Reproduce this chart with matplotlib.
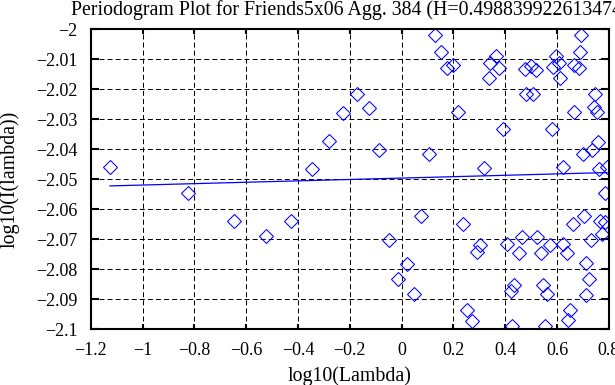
import matplotlib
matplotlib.use("Agg")
import matplotlib.pyplot as plt
from matplotlib.ticker import FuncFormatter

# periodogram points (log10 of frequency, log10 of intensity)
log_lambda = [
    -1.125, -0.824, -0.648, -0.523, -0.426, -0.347, -0.280, -0.225, -0.171, -0.125,
    -0.086, -0.047, -0.012, 0.020, 0.049, 0.075, 0.107, 0.129, 0.153, 0.175,
    0.198, 0.216, 0.236, 0.252, 0.270, 0.290, 0.303, 0.320, 0.338, 0.343,
    0.364, 0.376, 0.391, 0.405, 0.421, 0.428, 0.432, 0.452, 0.464, 0.475,
    0.482, 0.498, 0.507, 0.518, 0.523, 0.537, 0.546, 0.554, 0.562, 0.571,
    0.581, 0.584, 0.595, 0.607, 0.613, 0.622, 0.622, 0.638, 0.644, 0.651,
    0.661, 0.665, 0.667, 0.683, 0.687, 0.692, 0.701, 0.705, 0.712, 0.713,
    0.723, 0.731, 0.736, 0.742, 0.747, 0.755, 0.760, 0.763, 0.766, 0.773,
    0.786, 0.786, 0.793,
]
log_I = [
    -2.0460, -2.0547, -2.0639, -2.0688, -2.0639, -2.0467, -2.0373, -2.0280, -2.0216, -2.0261,
    -2.0402, -2.0704, -2.0831, -2.0781, -2.0884, -2.0622, -2.0415, -2.0019, -2.0077, -2.0129,
    -2.0120, -2.0277, -2.0649, -2.0937, -2.0971, -2.0742, -2.0719, -2.0461, -2.0162, -2.0111,
    -2.0088, -2.0129, -2.0331, -2.0717, -2.0874, -2.0988, -2.0851, -2.0747, -2.0691, -2.0132,
    -2.0215, -2.0122, -2.0215, -2.0137, -2.0692, -2.0747, -2.0854, -2.0988, -2.0881, -2.0719,
    -2.0331, -2.0127, -2.0088, -2.0111, -2.0162, -2.0460, -2.0716, -2.0747, -2.0969, -2.0936,
    -2.0649, -2.0118, -2.0276, -2.0129, -2.0075, -2.0018, -2.0415, -2.0622, -2.0886, -2.0780,
    -2.0832, -2.0704, -2.0403, -2.0258, -2.0217, -2.0276, -2.0375, -2.0465, -2.0638, -2.0682,
    -2.0641, -2.0547, -2.0459,
]

# least squares fit: slope = 1 - 2H
H = 0.498839922613474
intercept = -2.0496

x_ticks = [-1.2, -1, -0.8, -0.6, -0.4, -0.2, 0, 0.2, 0.4, 0.6, 0.8]
y_ticks = [-2.1, -2.09, -2.08, -2.07, -2.06, -2.05, -2.04, -2.03, -2.02, -2.01, -2.0]

plt.rcParams["font.family"] = ["Liberation Serif", "DejaVu Serif"]
plt.rcParams["font.size"] = 13
plt.rcParams["lines.scale_dashes"] = False

fig = plt.figure(figsize=(6.15, 3.85), dpi=100)
ax = fig.add_axes([0.1475, 0.1447, 0.8425, 0.7793])

ax.plot(log_lambda, log_I, linestyle="none", marker="D", markersize=6.8,
        markerfacecolor="none", markeredgecolor="blue", markeredgewidth=0.75)

slope = 1 - 2 * H
x_fit = [min(log_lambda), max(log_lambda)]
y_fit = [slope * v + intercept for v in x_fit]
ax.plot(x_fit, y_fit, color="blue", linewidth=0.9)

ax.set_xlim(-1.2, 0.8)
ax.set_ylim(-2.1, -2.0)
ax.set_xticks(x_ticks)
ax.set_yticks(y_ticks)
fmt = FuncFormatter(lambda v, p: ("%g" % round(v, 4)).replace("-", "\u2212"))
ax.xaxis.set_major_formatter(fmt)
ax.yaxis.set_major_formatter(fmt)

ax.grid(True, color="black", linestyle=(0, (3.6, 2.2)), linewidth=0.72)
ax.tick_params(axis="both", direction="in", top=True, right=True, width=1.5)
ax.tick_params(axis="x", length=3.6, pad=9)
ax.tick_params(axis="y", length=5.8, pad=9.5)
for s in ax.spines.values():
    s.set_linewidth(1.5)

ax.set_title("Periodogram Plot for Friends5x06 Agg. 384 (H=0.498839922613474)",
             fontsize=14.3, pad=10)
ax.set_xlabel("log10(Lambda)", fontsize=14.3, labelpad=5.5)
ax.set_ylabel("log10(I(lambda))", fontsize=14.3)
ax.yaxis.set_label_coords(-0.137, 0.5)

fig.savefig("out.png", dpi=100)
